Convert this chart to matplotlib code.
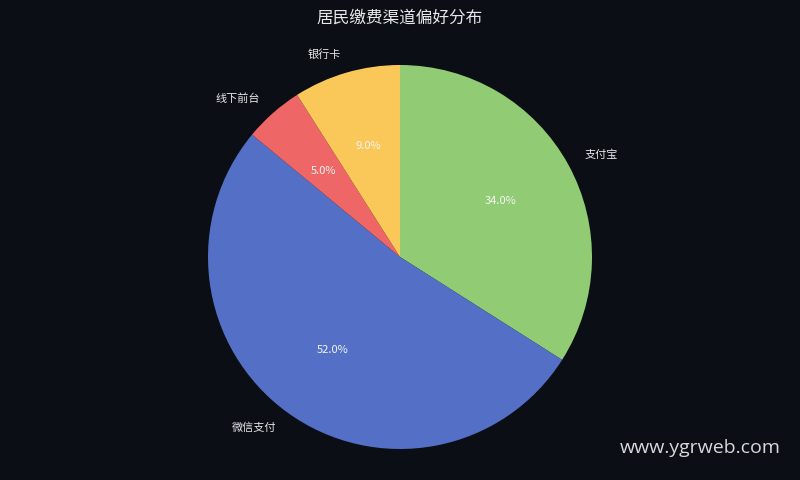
import matplotlib
matplotlib.use("Agg")
import matplotlib.pyplot as plt

plt.rcParams['font.family'] = ['Noto Sans CJK SC', 'DejaVu Sans']

labels = ['支付宝', '微信支付', '线下前台', '银行卡']
values = [34, 52, 5, 9]
colors = ['#91cc75', '#5470c6', '#ee6666', '#fac858']
title = '居民缴费渠道偏好分布'
bg = '#0b0e14'

fig = plt.figure(figsize=(8, 4.8), dpi=100, facecolor=bg)
ax = fig.add_axes([0.26, 0.0646, 0.48, 0.8])
ax.set_facecolor(bg)
wedges, texts, autotexts = ax.pie(values, labels=labels, colors=colors,
                                  autopct='%1.1f%%', startangle=90, counterclock=False,
                                  labeldistance=1.1, pctdistance=0.6,
                                  textprops={'fontsize': 8, 'color': '#e8e8e8'})
for t in autotexts:
    t.set_color('#f4f4f4')
    t.set_fontsize(8)
for t in texts + autotexts:
    t.set_clip_on(False)
ax.set_xlim(-1, 1)
ax.set_ylim(-1, 1)
ax.set_aspect('equal')
ax.axis('off')

fig.text(0.5, 1 - 18 / 480, title, ha='center', va='center', fontsize=12,
         color='#e8e8e8', fontweight='medium')
fig.text(0.976, 1 - 448 / 480, 'www.ygrweb.com', ha='right', va='center',
         fontsize=14, color='#d8d8d8', family=['Open Sans', 'DejaVu Sans'])

fig.savefig('out.png', dpi=100, facecolor=bg)
